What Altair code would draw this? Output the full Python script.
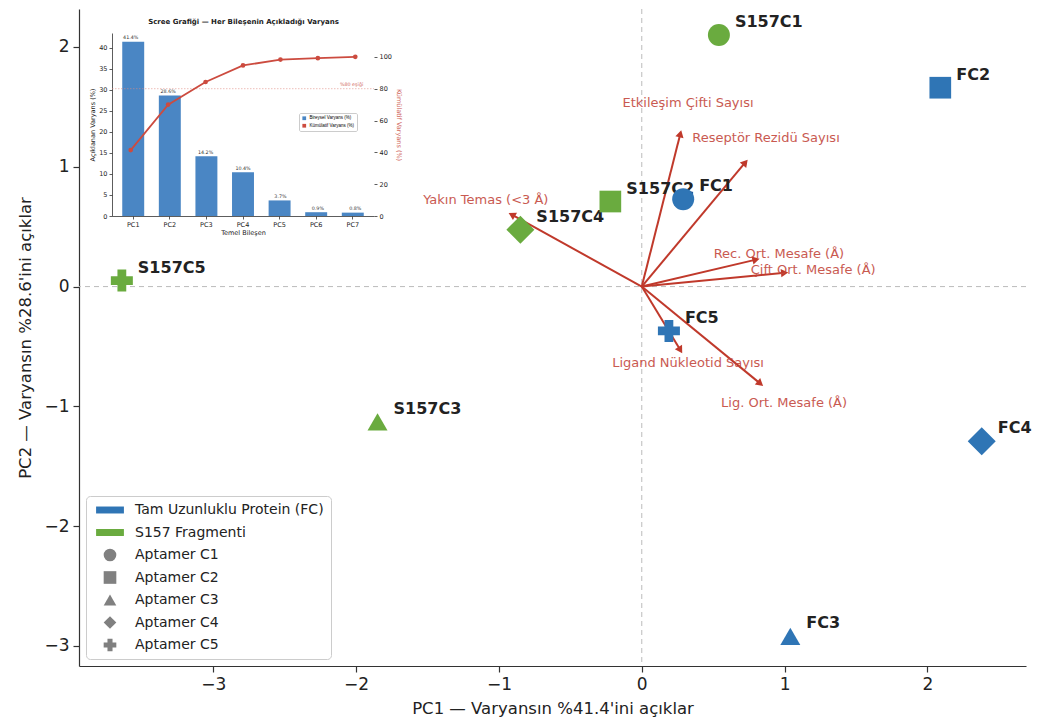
import altair as alt
import numpy as np
import pandas as pd

# ---------------- data ----------------
samples = ["FC1", "FC2", "FC3", "FC4", "FC5",
           "S157C1", "S157C2", "S157C3", "S157C4", "S157C5"]
groups = ["Tam Uzunluklu Protein (FC)"] * 5 + ["S157 Fragmenti"] * 5
aptamers = ["Aptamer C1", "Aptamer C2", "Aptamer C3", "Aptamer C4", "Aptamer C5"]
sample_apt = aptamers * 2
pc1 = [0.29, 2.09, 1.04, 2.38, 0.19, 0.54, -0.22, -1.85, -0.85, -3.64]
pc2 = [0.73, 1.66, -2.92, -1.29, -0.37, 2.10, 0.71, -1.13, 0.475, 0.05]

features = ["Etkileşim Çifti Sayısı", "Reseptör Rezidü Sayısı",
            "Rec. Ort. Mesafe (Å)", "Çift Ort. Mesafe (Å)",
            "Yakın Temas (<3 Å)", "Ligand Nükleotid Sayısı",
            "Lig. Ort. Mesafe (Å)"]
load1 = [0.27, 0.725, 0.80, 1.00, -0.91, 0.27, 0.83]
load2 = [1.275, 1.036, 0.225, 0.115, 0.60, -0.53, -0.81]

pcs = ["PC1", "PC2", "PC3", "PC4", "PC5", "PC6", "PC7"]
var_exp = [41.4, 28.6, 14.2, 10.4, 3.7, 0.9, 0.8]

group_dom = ["Tam Uzunluklu Protein (FC)", "S157 Fragmenti"]
leg_dom = group_dom + aptamers

# ---------------- styling ----------------
BLUE = "#2f75b5"
GREEN = "#6aab3f"
RED = "#c0392b"
RED_TXT = "#c4493e"
FONT = "DejaVu Sans"
W, H = 947, 657
XD = [-3.94, 2.69]
YD = [-3.167, 2.317]
PXX = W / (XD[1] - XD[0])
PXY = H / (YD[1] - YD[0])

xs = alt.Scale(domain=XD, nice=False, zero=False)
ys = alt.Scale(domain=YD, nice=False, zero=False)

df = pd.DataFrame({"ornek": samples, "grup": groups, "apt": sample_apt,
                   "pc1": pc1, "pc2": pc2})

adf = pd.DataFrame({"f": features, "l1": load1, "l2": load2})
adf["o"] = 0.0
adf["ang"] = (np.degrees(np.arctan2(adf["l1"] * PXX, adf["l2"] * PXY)) + 360) % 360
adf["t1"] = adf["l1"] * 1.2
adf["t2"] = adf["l2"] * 1.2

zdf = pd.DataFrame({"v": [0.0]})
legdf = pd.DataFrame({"leg": leg_dom, "x0": 0.0, "y0": 0.0})

# zero lines
vline = alt.Chart(zdf).mark_rule(color="#bbbbbb", strokeDash=[5, 4], strokeWidth=1).encode(
    x=alt.X("v:Q", scale=xs, axis=None))
hline = alt.Chart(zdf).mark_rule(color="#bbbbbb", strokeDash=[5, 4], strokeWidth=1).encode(
    y=alt.Y("v:Q", scale=ys, axis=None))

# loading arrows
arr = alt.Chart(adf).mark_rule(color=RED, strokeWidth=2).encode(
    x=alt.X("o:Q", scale=xs, axis=None), y=alt.Y("o:Q", scale=ys, axis=None),
    x2="l1:Q", y2="l2:Q")
heads = alt.Chart(adf).mark_point(shape="triangle-up", filled=True, size=70,
                                  color=RED, opacity=1).encode(
    x=alt.X("l1:Q", scale=xs, axis=None), y=alt.Y("l2:Q", scale=ys, axis=None),
    angle=alt.Angle("ang:Q", scale=None))
alab = alt.Chart(adf).mark_text(fontSize=13, font=FONT, color=RED_TXT, opacity=0.9,
                                align="center", baseline="middle").encode(
    x=alt.X("t1:Q", scale=xs, axis=None), y=alt.Y("t2:Q", scale=ys, axis=None),
    text="f:N")

# point labels
plab = alt.Chart(df).mark_text(align="left", baseline="middle", dx=16, dy=-13,
                               fontSize=16, fontWeight="bold", font=FONT,
                               color="#222222").encode(
    x=alt.X("pc1:Q", scale=xs, axis=None), y=alt.Y("pc2:Q", scale=ys, axis=None),
    text="ornek:N")

ax_x = alt.Axis(values=[-3, -2, -1, 0, 1, 2], format="d",
                title="PC1 — Varyansın %41.4'ini açıklar", grid=False,
                labelFontSize=17, titleFontSize=16.5, tickSize=6, labelPadding=4,
                titlePadding=8)
ax_y = alt.Axis(values=[-3, -2, -1, 0, 1, 2], format="d",
                title="PC2 — Varyansın %28.6'ini açıklar", grid=False,
                labelFontSize=17, titleFontSize=16.5, tickSize=6, labelPadding=4,
                titlePadding=10)

pts = alt.Chart(df).mark_point(filled=True, opacity=1).encode(
    x=alt.X("pc1:Q", scale=xs, axis=ax_x),
    y=alt.Y("pc2:Q", scale=ys, axis=ax_y),
    color=alt.Color("grup:N", scale=alt.Scale(domain=group_dom, range=[BLUE, GREEN]),
                    legend=None),
    shape=alt.Shape("apt:N", scale=alt.Scale(domain=aptamers,
                    range=["circle", "square", "triangle-up", "diamond", "cross"]),
                    legend=None),
    size=alt.Size("apt:N", scale=alt.Scale(type="ordinal", domain=aptamers,
                  range=[484, 470, 400, 784, 484]), legend=None),
)

RECT = "M-2.2,-0.55L2.2,-0.55L2.2,0.55L-2.2,0.55Z"
main_leg = alt.Legend(title=None, orient="bottom-left", offset=7, labelFontSize=14,
                      labelFont=FONT, labelColor="#222222", symbolSize=160,
                      symbolStrokeWidth=0, symbolOpacity=1, labelOffset=18,
                      symbolOffset=10, padding=7, rowPadding=8.5,
                      strokeColor="#cccccc", fillColor="white", cornerRadius=4,
                      labelLimit=400)
legl = alt.Chart(legdf).mark_point(filled=True, opacity=0).encode(
    x=alt.X("x0:Q", scale=xs, axis=None), y=alt.Y("y0:Q", scale=ys, axis=None),
    color=alt.Color("leg:N", scale=alt.Scale(domain=leg_dom,
                    range=[BLUE, GREEN] + ["#808080"] * 5), legend=main_leg),
    shape=alt.Shape("leg:N", scale=alt.Scale(domain=leg_dom,
                    range=[RECT, RECT, "circle", "square", "triangle-up", "diamond", "cross"]),
                    legend=main_leg),
)

# ---------------- inset scree plot ----------------
IX0, IX1 = 33, 295
IY0, IY1 = 207, 24
cum = np.round(np.cumsum(var_exp), 1)
idf = pd.DataFrame({"pc": pcs, "var": var_exp, "cum": cum,
                    "lab": [f"{v}%" for v in var_exp],
                    "sb": "Bireysel Varyans (%)", "sc": "Kümülatif Varyans (%)"})
tdf = pd.DataFrame({"pc": ["PC7"], "t": [80.0], "lab": ["%80 eşiği"]})

def bx():
    return alt.Scale(domain=pcs, range=[IX0, IX1], paddingInner=0.4, paddingOuter=0.28)

byl = alt.Scale(domain=[0, 43.47], range=[IY0, IY1], nice=False, zero=True)
byr = alt.Scale(domain=[0, 115], range=[IY0, IY1], nice=False, zero=True)

ISZ = 6.5
inset_x_axis = alt.Axis(orient="bottom", offset=-(H - IY0), title="Temel Bileşen",
                        labelAngle=0, labelFontSize=ISZ, titleFontSize=ISZ,
                        tickSize=3, labelPadding=2, titlePadding=2, grid=False,
                        domainWidth=0.8, tickWidth=0.8)
inset_yl_axis = alt.Axis(orient="left", offset=-IX0, values=list(range(0, 45, 5)),
                         title="Açıklanan Varyans (%)", labelFontSize=ISZ,
                         titleFontSize=ISZ, tickSize=3, labelPadding=2,
                         titlePadding=3, grid=False, domainWidth=0.8, tickWidth=0.8)
inset_yr_axis = alt.Axis(orient="right", offset=-(W - IX1),
                         values=list(range(0, 101, 20)),
                         title="Kümülatif Varyans (%)", titleColor="#d0665c",
                         labelFontSize=ISZ, titleFontSize=ISZ, tickSize=3,
                         labelPadding=2, titlePadding=4, grid=False, domain=False,
                         tickWidth=0.8)
inset_title_axis = alt.Axis(orient="top", offset=-IY1, labels=False, ticks=False,
                            domain=False, grid=False,
                            title="Scree Grafiği — Her Bileşenin Açıkladığı Varyans",
                            titleFontSize=7, titleFontWeight="bold", titlePadding=9)

inset_leg = alt.Legend(title=None, orient="none", legendX=220, legendY=104,
                       labelFontSize=4.5, symbolSize=14, symbolType="square",
                       padding=3, rowPadding=1.5, strokeColor="#cccccc",
                       fillColor="white", cornerRadius=1.5, labelOffset=3,
                       symbolStrokeWidth=0)

bars = alt.Chart(idf).mark_bar(opacity=1).encode(
    x=alt.X("pc:N", scale=bx(), sort=pcs, axis=inset_x_axis),
    y=alt.Y("var:Q", scale=byl, axis=inset_yl_axis),
    color=alt.Color("sb:N", scale=alt.Scale(domain=["Bireysel Varyans (%)",
                    "Kümülatif Varyans (%)"], range=["#4a86c4", "#cc4b3f"]),
                    legend=inset_leg),
)
blab = alt.Chart(idf).mark_text(fontSize=4.8, font=FONT, color="#333333",
                                baseline="bottom", dy=-1.5).encode(
    x=alt.X("pc:N", scale=bx(), sort=pcs, axis=inset_title_axis),
    y=alt.Y("var:Q", scale=byl, axis=None),
    text="lab:N")
rule80 = alt.Chart(tdf).mark_rule(color="#e08a82", strokeDash=[1.5, 1.5],
                                  strokeWidth=0.8, opacity=0.7).encode(
    y=alt.Y("t:Q", scale=byr, axis=None), x=alt.value(IX0), x2=alt.value(IX1))
text80 = alt.Chart(tdf).mark_text(fontSize=4.8, font=FONT, color="#d0665c",
                                  align="right", baseline="bottom", dx=8, dy=-1.5).encode(
    x=alt.X("pc:N", scale=bx(), axis=None),
    y=alt.Y("t:Q", scale=byr, axis=None), text="lab:N")
cline = alt.Chart(idf).mark_line(color="#cc4b3f", strokeWidth=1.8).encode(
    x=alt.X("pc:N", scale=bx(), sort=pcs, axis=None),
    y=alt.Y("cum:Q", scale=byr, axis=inset_yr_axis))
cpts = alt.Chart(idf).mark_point(filled=True, size=22, color="#cc4b3f", opacity=1).encode(
    x=alt.X("pc:N", scale=bx(), sort=pcs, axis=None),
    y=alt.Y("cum:Q", scale=byr, axis=None))

chart = alt.layer(
    vline, hline, arr, heads, alab, plab, pts, legl,
    bars, blab, rule80, text80, cline, cpts,
).resolve_scale(
    x="independent", y="independent", color="independent",
    shape="independent", size="independent",
).properties(
    width=W, height=H, padding={"left": 9, "top": 0, "right": 0, "bottom": 0},
).configure_view(stroke=None).configure_axis(
    domainColor="#333333", tickColor="#333333", labelColor="#222222",
    titleColor="#222222", labelFont=FONT, titleFont=FONT, titleFontWeight="normal",
    domainWidth=1.2, tickWidth=1.2,
).configure_text(font=FONT)

chart.save("out.html", embed_options={"renderer": "svg", "actions": False})
